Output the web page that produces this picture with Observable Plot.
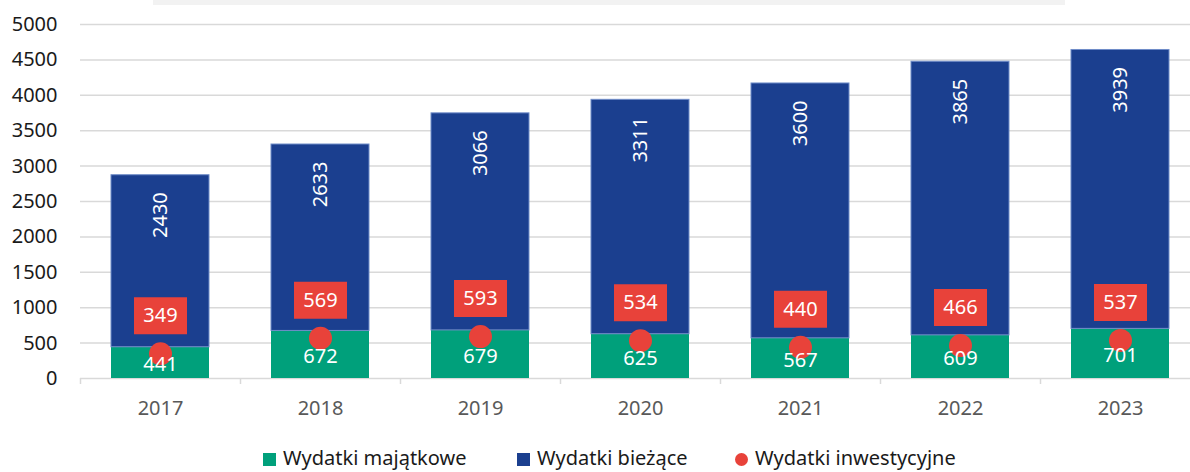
<!DOCTYPE html>
<html><head><meta charset="utf-8">
<script src="https://cdn.jsdelivr.net/npm/d3@7"></script>
<script src="https://cdn.jsdelivr.net/npm/@observablehq/plot@0.6"></script>
<style>
html,body{margin:0;padding:0;background:#fff;overflow:hidden;width:1190px;height:472px}
#wrap{position:relative;width:1190px;height:472px;overflow:hidden;font-family:"Noto Sans",sans-serif}
#topbox{position:absolute;left:153px;top:0;width:912px;height:5px;background:#f2f2f2}
#chart{position:absolute;left:0;top:0;width:1200px}
#chart svg{max-width:none !important}
.leg{position:absolute;top:446px;font-size:20px;line-height:24px;color:#1a1a1a;white-space:nowrap}
.sw{display:inline-block;width:13px;height:13px;margin-right:7px;vertical-align:-1px}
</style></head><body>
<div id="wrap"><div id="topbox"></div><div id="chart"></div></div>
<script>
const years = ["2017","2018","2019","2020","2021","2022","2023"];
const majatkowe = [441, 672, 679, 625, 567, 609, 701];
const biezace = [2430, 2633, 3066, 3311, 3600, 3865, 3939];
const inwestycyjne = [349, 569, 593, 534, 440, 466, 537];
const yTicks = [0, 500, 1000, 1500, 2000, 2500, 3000, 3500, 4000, 4500, 5000];
const seriesNames = ["Wydatki majątkowe", "Wydatki bieżące", "Wydatki inwestycyjne"];
const colors = ["#00A07B", "#1B3F8F", "#E8423A"];

const rows = years.map((year, i) => ({year, m: majatkowe[i], b: biezace[i], inv: inwestycyjne[i]}));

const boxSymbol = {draw(ctx) { ctx.rect(-26.5, -56.5, 53, 37); }};

const chart = Plot.plot({
  width: 1200,
  height: 440,
  marginLeft: 80,
  marginRight: 0,
  marginTop: 24,
  marginBottom: 62,
  style: {fontFamily: "Noto Sans", fontSize: "20px", background: "transparent", maxWidth: "none", width: "1200px", height: "440px"},
  x: {domain: years, paddingInner: 0.3875, paddingOuter: 0.19375, align: 0.5, label: null},
  y: {domain: [0, 5000], label: null},
  marks: [
    Plot.gridY(yTicks, {stroke: "#d9d9d9", strokeOpacity: 1, strokeWidth: 1.5}),
    Plot.axisY(yTicks, {tickSize: 0, tickPadding: 23, fontSize: 20, color: "#1a1a1a", tickFormat: d => String(d), label: null}),
    Plot.axisX({tickSize: 0, tickPadding: 22, fontSize: 20, color: "#595959", label: null}),
    Plot.axisX({tickSize: 6, tickFormat: () => "", dx: -80, stroke: "#d9d9d9", strokeWidth: 1.5, label: null}),
    Plot.barY(rows, {x: "year", y1: 0, y2: "m", fill: colors[0]}),
    Plot.barY(rows, {x: "year", y1: "m", y2: d => d.m + d.b, fill: colors[1], stroke: "#6f8cc8", strokeWidth: 1}),
    Plot.dot(rows, {x: "year", y: "inv", symbol: boxSymbol, fill: colors[2], stroke: "none"}),
    Plot.text(rows, {x: "year", y: "inv", text: d => String(d.inv), dy: -38, fill: "white", fontSize: 20}),
    Plot.dot(rows, {x: "year", y: "inv", r: 11.5, fill: colors[2], stroke: "none"}),
    Plot.text(rows, {x: "year", y: d => d.m / 2, text: d => String(d.m), dy: 2, fill: "white", fontSize: 20}),
    Plot.text(rows, {x: "year", y: d => d.m + d.b, text: d => String(d.b), rotate: -90, textAnchor: "end", dy: 17, fill: "white", fontSize: 20})
  ]
});
document.getElementById("chart").appendChild(chart);

const legendLeft = [263, 517, 735];
const wrap = document.getElementById("wrap");
seriesNames.forEach((name, i) => {
  const el = document.createElement("div");
  el.className = "leg";
  el.style.left = legendLeft[i] + "px";
  const sw = document.createElement("span");
  sw.className = "sw";
  sw.style.background = colors[i];
  if (i === 2) sw.style.borderRadius = "50%";
  el.appendChild(sw);
  el.appendChild(document.createTextNode(name));
  wrap.appendChild(el);
});
</script>
</body></html>
